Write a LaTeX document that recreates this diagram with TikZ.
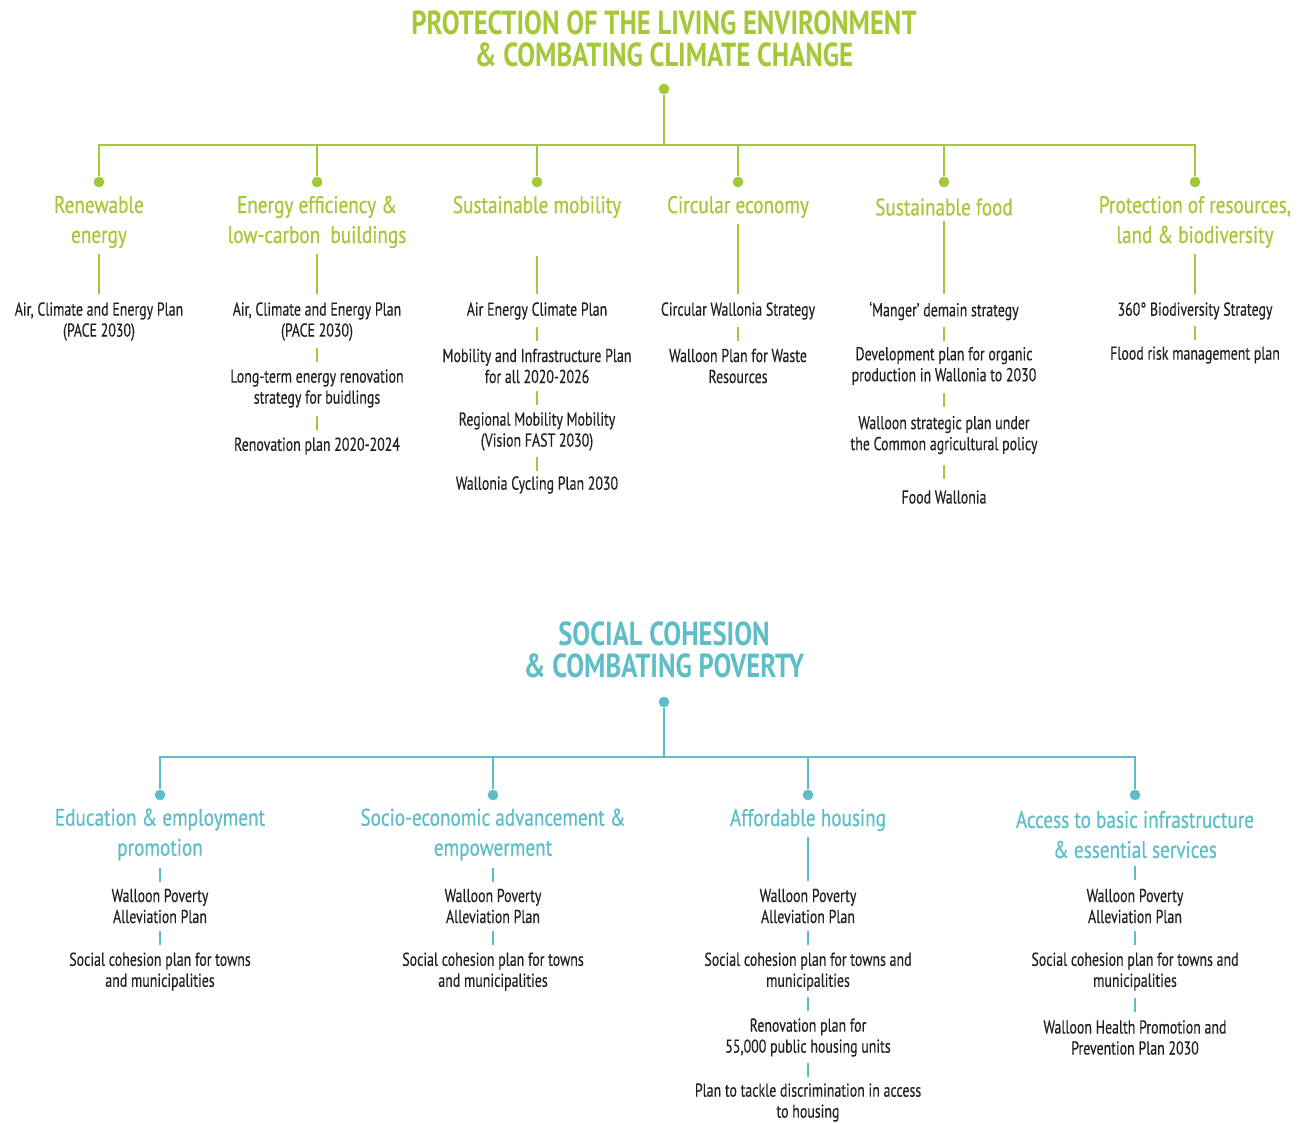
\documentclass[tikz,border=0pt]{standalone}
\usepackage{fontspec}
\usepackage{tikz}
\usetikzlibrary{calc}
\setmainfont{PT Sans}
\newfontfamily\titlefont{PT Sans}[FakeStretch=0.8]
\newfontfamily\themefont{PT Sans}[FakeStretch=0.8,FakeBold=0.6]
\newfontfamily\planfont{PT Sans}[FakeStretch=0.745,FakeBold=0.3]
\definecolor{leaf}{RGB}{165,200,57}
\definecolor{lagoon}{RGB}{94,190,200}
\definecolor{ink}{RGB}{35,31,32}
\tikzset{
  headline/.style={align=center,inner sep=0pt,font=\titlefont\bfseries\fontsize{25}{24}\selectfont},
  theme/.style={align=center,inner sep=0pt,font=\themefont\fontsize{18}{22.5}\selectfont},
  plan/.style={align=center,inner sep=0pt,text=ink,font=\planfont\fontsize{14}{15.75}\selectfont},
  knot/.style={circle,fill,inner sep=0pt,minimum size=8pt},
  link/.style={line width=2.2pt},
}
% short dash between two stacked plans
\newcommand{\tick}[3]{\draw[link,#1] ($(#2.south)!.5!(#3.north)$) ++(0,-7) -- ++(0,14);}

\begin{document}
\begin{tikzpicture}[x=0.75pt,y=-0.75pt]
  \useasboundingbox (0,0) rectangle (1314,1122);
  % ---- environment tree
  \node[headline,leaf] (envtitle) at (664,39) {PROTECTION OF THE LIVING ENVIRONMENT\\\& COMBATING CLIMATE CHANGE};
  \node[knot,leaf] (envroot) at (664,89) {};
  \draw[link,leaf] (envroot) -- ++(0,56) coordinate (envbar);
  \foreach \n/\x in {re/99,ee/317,sm/537,ce/738,sf/944,pr/1195}{
    \node[knot,leaf] (\n) at (\x,182) {};
    \draw[link,leaf] (\n) |- (envbar);
  }
  \node[theme,leaf] (reh) at (99,222) {Renewable\\energy};
  \node[theme,leaf] (eeh) at (317,222) {Energy efficiency \&\\low-carbon\ \ buildings};
  \node[theme,leaf] (smh) at (537,207) {Sustainable mobility};
  \node[theme,leaf] (ceh) at (738,207) {Circular economy};
  \node[theme,leaf] (sfh) at (944,207) {Sustainable food};
  \node[theme,leaf] (prh) at (1195,222) {Protection of resources,\\land \& biodiversity};
  % plans
  \node[plan] (re1) at (99,321.5) {Air, Climate and Energy Plan\\(PACE 2030)};
  \node[plan] (ee1) at (317,321.5) {Air, Climate and Energy Plan\\(PACE 2030)};
  \node[plan] (ee2) at (317,388.5) {Long-term energy renovation\\strategy for buidlings};
  \node[plan] (ee3) at (317,446) {Renovation plan 2020-2024};
  \node[plan] (sm1) at (537,311) {Air Energy Climate Plan};
  \node[plan] (sm2) at (537,366) {Mobility and Infrastructure Plan\\for all 2020-2026};
  \node[plan] (sm3) at (537,431.5) {Regional Mobility Mobility\\(Vision FAST 2030)};
  \node[plan] (sm4) at (537,485) {Wallonia Cycling Plan 2030};
  \node[plan] (ce1) at (738,311) {Circular Wallonia Strategy};
  \node[plan] (ce2) at (738,366) {Walloon Plan for Waste\\Resources};
  \node[plan] (sf1) at (944,311) {‘Manger’ demain strategy};
  \node[plan] (sf2) at (944,366) {Development plan for organic\\production in Wallonia to 2030};
  \node[plan] (sf3) at (944,435) {Walloon strategic plan under\\the Common agricultural policy};
  \node[plan] (sf4) at (944,497) {Food Wallonia};
  \node[plan] (pr1) at (1195,311) {360° Biodiversity Strategy};
  \node[plan] (pr2) at (1195,355) {Flood risk management plan};
  \foreach \h/\p in {reh/re1,eeh/ee1,prh/pr1}
    \draw[link,leaf,shorten <=4pt,shorten >=6pt] (\h) -- (\p);
  \draw[link,leaf,shorten <=28pt,shorten >=6pt] (smh) -- (sm1);
  \draw[link,leaf,shorten <=4pt,shorten >=6pt] (ceh) -- (ce1);
  \draw[link,leaf,shorten <=4pt,shorten >=6pt] (sfh) -- (sf1);
  \tick{leaf}{ee1}{ee2} \tick{leaf}{ee2}{ee3}
  \tick{leaf}{sm1}{sm2} \tick{leaf}{sm2}{sm3} \tick{leaf}{sm3}{sm4}
  \tick{leaf}{ce1}{ce2}
  \tick{leaf}{sf1}{sf2} \tick{leaf}{sf2}{sf3} \tick{leaf}{sf3}{sf4}
  \tick{leaf}{pr1}{pr2}
  % ---- social tree
  \node[headline,lagoon] (soctitle) at (664,649.5) {SOCIAL COHESION\\\& COMBATING POVERTY};
  \node[knot,lagoon] (socroot) at (664,702) {};
  \draw[link,lagoon] (socroot) -- ++(0,55) coordinate (socbar);
  \foreach \n/\x in {ed/160,se/493,ah/808,ab/1135}{
    \node[knot,lagoon] (\n) at (\x,795) {};
    \draw[link,lagoon] (\n) |- (socbar);
  }
  \node[theme,lagoon] (edh) at (160,834.5) {Education \& employment\\promotion};
  \node[theme,lagoon] (seh) at (493,834.5) {Socio-economic advancement \&\\empowerment};
  \node[theme,lagoon] (ahh) at (808,820) {Affordable housing};
  \node[theme,lagoon] (abh) at (1135,834.5) {Access to basic infrastructure\\\& essential services};
  % plans
  \node[plan] (ed1) at (160,906) {Walloon Poverty\\Alleviation Plan};
  \node[plan] (ed2) at (160,971.5) {Social cohesion plan for towns\\and municipalities};
  \node[plan] (se1) at (493,906) {Walloon Poverty\\Alleviation Plan};
  \node[plan] (se2) at (493,971.5) {Social cohesion plan for towns\\and municipalities};
  \node[plan] (ah1) at (808,906) {Walloon Poverty\\Alleviation Plan};
  \node[plan] (ah2) at (808,971.5) {Social cohesion plan for towns and\\municipalities};
  \node[plan] (ah3) at (808,1037.5) {Renovation plan for\\55,000 public housing units};
  \node[plan] (ah4) at (808,1102.5) {Plan to tackle discrimination in access\\to housing};
  \node[plan] (ab1) at (1135,906) {Walloon Poverty\\Alleviation Plan};
  \node[plan] (ab2) at (1135,971.5) {Social cohesion plan for towns and\\municipalities};
  \node[plan] (ab3) at (1135,1037.5) {Walloon Health Promotion and\\Prevention Plan 2030};
  \draw[link,lagoon,shorten <=4pt,shorten >=6pt] (ahh) -- (ah1);
  \tick{lagoon}{edh}{ed1} \tick{lagoon}{ed1}{ed2}
  \tick{lagoon}{seh}{se1} \tick{lagoon}{se1}{se2}
  \tick{lagoon}{ah1}{ah2} \tick{lagoon}{ah2}{ah3} \tick{lagoon}{ah3}{ah4}
  \tick{lagoon}{abh}{ab1} \tick{lagoon}{ab1}{ab2} \tick{lagoon}{ab2}{ab3}
\end{tikzpicture}
\end{document}
